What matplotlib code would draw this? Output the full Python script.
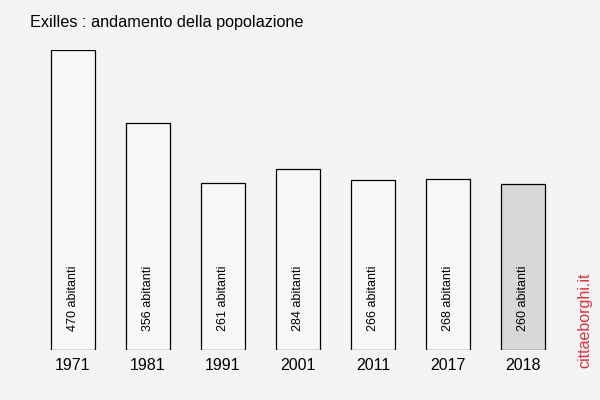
import matplotlib
matplotlib.use('Agg')
import matplotlib.pyplot as plt

plt.rcParams['font.family'] = ['Liberation Sans', 'DejaVu Sans']

years = ['1971', '1981', '1991', '2001', '2011', '2017', '2018']
population = [470, 356, 261, 284, 266, 268, 260]
labels = [f"{p} abitanti" for p in population]

bg = '#f4f4f4'
fig = plt.figure(figsize=(6, 4), dpi=100, facecolor=bg)
ax = fig.add_axes([0.059, 0.125, 0.875, 0.75])
ax.set_facecolor(bg)

colors = ['#f8f8f8'] * (len(years) - 1) + ['#d8d8d8']
x = range(len(years))
ax.bar(x, population, width=0.59, color=colors, edgecolor='black', linewidth=0.9)

for i, lab in enumerate(labels):
    ax.annotate(lab, (i, 0), xytext=(0, 14), textcoords='offset points',
                rotation=90, ha='center', va='bottom', fontsize=9)

ax.set_xlim(-0.5, len(years) - 0.5)
ax.set_ylim(0, max(population))
ax.set_xticks(list(x))
ax.set_xticklabels(years, fontsize=11.5)
ax.tick_params(axis='x', length=0, pad=6)
ax.set_yticks([])
for s in ax.spines.values():
    s.set_visible(False)

fig.text(30 / 600, 1 - 22 / 400, 'Exilles : andamento della popolazione',
         fontsize=11.7, ha='left', va='center')
fig.text(585 / 600, 1 - 320 / 400, 'cittaeborghi.it', color='#e0303a',
         fontsize=11.5, rotation=90, ha='center', va='center')

fig.savefig('out.png', dpi=100, facecolor=bg)
